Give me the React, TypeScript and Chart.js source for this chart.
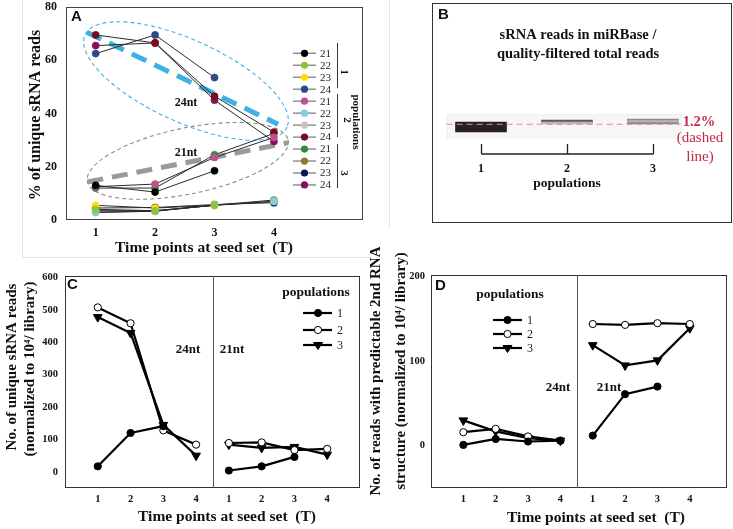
import React, { useEffect, useRef } from 'react';
import { Chart, registerables } from 'chart.js';
Chart.register(...registerables);

const SERIF = '"Liberation Serif", "Times New Roman", serif';
const SANS = '"Liberation Sans", Arial, sans-serif';

// ---------- Panel A data ----------
const aTimePoints = [1, 2, 3, 4];
const aLengths = ['21', '22', '23', '24'];
const aYTicks = [0, 20, 40, 60, 80];
// rows: lengths 21, 22, 23, 24 ; columns: time points 1..4
const aPop1 = [[13, 10.5, 18.5, null], [4, 3.5, 5.5, null], [5.5, 4.5, 5.5, null], [62.5, 69.5, 53.5, null]];
const aPop2 = [[12.5, 13.5, 23.5, 31], [2.8, 3.3, 5.6, 7], [3.5, 3.5, 5.5, 7], [69.5, 66.5, 46.5, 33]];
const aPop3 = [[12, 12, 24.5, 32.5], [3, 3.3, 5.6, 7.5], [4.5, 4.7, 5.8, 6.5], [65.5, 66.5, 45, 29.5]];
const aColorsPop1 = ['#000000', '#8cc43c', '#ffe000', '#2d4a8a'];
const aColorsPop2 = ['#c2508e', '#7fcfe0', '#c8c4c4', '#7a0c20'];
const aColorsPop3 = ['#2f8a3c', '#8a7e22', '#0c1850', '#86105c'];
const aTrend24 = [[0.85, 70.5], [4.07, 36]];
const aTrend21 = [[0.86, 14.3], [4.24, 29]];
// ellipse: centre (x, y) and end of major axis (x, y), in data units
const aEllipse24 = [2.52, 52.2, 4.22, 34.9];
const aEllipse21 = [2.55, 22.2, 4.24, 30.0];

// ---------- Panel B data ----------
const bPops = [1, 2, 3];
const bPopLabels = ['1', '2', '3'];
const bDark = [[1.123, 1.223], [1.213, 1.243], [1.203, 1.253]];
const bLight = [null, [1.203, 1.222], [1.225, 1.236]];
const bThreshold = 1.2;
const bLineRange = [0.6, 3.32];

// ---------- Panel C / D data ----------
const cdX24 = [1, 2, 3, 4];
const cdX21 = [5, 6, 7, 8];
const cdTickLabels = ['1', '2', '3', '4', '1', '2', '3', '4'];
const cdPopLabels = ['1', '2', '3'];
const c24 = [[17, 120, 141, null], [508, 459, 128, 84], [478, 429, 145, 50]];
const c21 = [[4, 17, 46, null], [89, 91, 67, 71], [84, 74, 77, 53]];
const cYTicks = [0, 100, 200, 300, 400, 500, 600];
const d24 = [[1, 8, 5, 6], [16, 20, 11, 6], [30, 17, 9, 6]];
const d21 = [[12, 61, 70, null], [144, 143, 145, 144], [119, 95, 101, 139]];
const dYTicks = [0, 100, 200];

type TextItem = { t: string; x: number; y: number; size: number; bold?: boolean; fam?: string; color?: string; align?: CanvasTextAlign; rot?: number };

function drawTexts(ctx: CanvasRenderingContext2D, items: TextItem[]) {
  for (const it of items) {
    ctx.save();
    ctx.font = `${it.bold ? 'bold ' : ''}${it.size}px ${it.fam || SERIF}`;
    ctx.fillStyle = it.color || '#111';
    ctx.textAlign = it.align || 'center';
    ctx.textBaseline = 'middle';
    ctx.translate(it.x, it.y);
    if (it.rot) ctx.rotate((it.rot * Math.PI) / 180);
    ctx.fillText(it.t, 0, 0);
    ctx.restore();
  }
}

function drawFrame(chart: any, color = '#333') {
  const { ctx, chartArea: a } = chart;
  ctx.save();
  ctx.strokeStyle = color;
  ctx.lineWidth = 1;
  ctx.setLineDash([]);
  ctx.strokeRect(Math.round(a.left) + 0.5, Math.round(a.top) + 0.5, Math.round(a.right - a.left) - 1, Math.round(a.bottom - a.top) - 1);
  ctx.restore();
}

function drawMarker(ctx: CanvasRenderingContext2D, kind: number, x: number, y: number) {
  ctx.save();
  ctx.fillStyle = kind === 1 ? '#fff' : '#000';
  ctx.strokeStyle = '#000';
  ctx.lineWidth = 1;
  ctx.beginPath();
  if (kind === 2) {
    ctx.moveTo(x - 4.5, y - 2.5);
    ctx.lineTo(x + 4.5, y - 2.5);
    ctx.lineTo(x, y + 4.5);
    ctx.closePath();
  } else {
    ctx.arc(x, y, 3.6, 0, Math.PI * 2);
  }
  ctx.fill();
  ctx.stroke();
  ctx.restore();
}

const tickFont = (size: number) => ({ family: SERIF, size, weight: 'bold' as const });
const noGrid = { display: false, drawTicks: false };
const fitX = (h: number) => (s: any) => { s.height = h; s.paddingLeft = 0; s.paddingRight = 0; };
const fitY = (w: number) => (s: any) => { s.width = w; s.paddingTop = 0; s.paddingBottom = 0; };

function configA(): any {
  const pops = [aPop1, aPop2, aPop3];
  const cols = [aColorsPop1, aColorsPop2, aColorsPop3];
  const datasets: any[] = [];
  pops.forEach((pop, p) => {
    pop.forEach((vals, l) => {
      const c = cols[p][l];
      datasets.push({
        data: aTimePoints.map((t, i) => ({ x: t, y: vals[i] })),
        borderColor: '#2a2a2a', borderWidth: 1, pointRadius: 3.6, pointBorderWidth: 0.5,
        pointBackgroundColor: c, pointBorderColor: c, spanGaps: false, order: 1,
      });
    });
  });
  datasets.push({ data: aTrend24.map(([x, y]) => ({ x, y })), borderColor: '#3db1e4', borderWidth: 5, borderDash: [16, 9], pointRadius: 0, order: 5 });
  datasets.push({ data: aTrend21.map(([x, y]) => ({ x, y })), borderColor: '#9a9a9a', borderWidth: 5, borderDash: [16, 9], pointRadius: 0, order: 5 });

  const deco = {
    id: 'decoA',
    beforeDatasetsDraw(chart: any) {
      const { ctx } = chart;
      const xs = chart.scales.x, ys = chart.scales.y;
      const ell = (e: number[], b: number, color: string) => {
        const cx = xs.getPixelForValue(e[0]), cy = ys.getPixelForValue(e[1]);
        const ex = xs.getPixelForValue(e[2]), ey = ys.getPixelForValue(e[3]);
        const a = Math.hypot(ex - cx, ey - cy);
        const ang = Math.atan2(ey - cy, ex - cx);
        ctx.save();
        ctx.strokeStyle = color; ctx.lineWidth = 1.1; ctx.setLineDash([4, 3]);
        ctx.beginPath(); ctx.ellipse(cx, cy, a, b, ang, 0, Math.PI * 2); ctx.stroke();
        ctx.restore();
      };
      ell(aEllipse24, 41, '#3db1e4');
      ell(aEllipse21, 33, '#8a8a8a');
    },
    afterDraw(chart: any) {
      const { ctx } = chart;
      drawFrame(chart, '#444');
      ctx.save();
      ctx.strokeStyle = '#e6e6e6'; ctx.lineWidth = 1;
      ctx.beginPath(); ctx.moveTo(22.5, 0); ctx.lineTo(22.5, 257.5); ctx.lineTo(370, 257.5); ctx.stroke();
      ctx.restore();
      const cols2 = [aColorsPop1, aColorsPop2, aColorsPop3];
      for (let i = 0; i < 12; i++) {
        const p = Math.floor(i / 4), l = i % 4;
        const y = 53.3 + i * 11.97;
        ctx.save();
        ctx.strokeStyle = '#8a8a8a'; ctx.lineWidth = 1.4;
        ctx.beginPath(); ctx.moveTo(293, y); ctx.lineTo(316, y); ctx.stroke();
        ctx.fillStyle = cols2[p][l];
        ctx.beginPath(); ctx.arc(304.5, y, 3.6, 0, Math.PI * 2); ctx.fill();
        ctx.restore();
        drawTexts(ctx, [{ t: aLengths[l], x: 320, y: y + 0.5, size: 11, align: 'left', color: '#222' }]);
      }
      ctx.save();
      ctx.strokeStyle = '#333'; ctx.lineWidth = 1;
      [[43, 88], [94, 137], [144, 188]].forEach(([a, b]) => {
        ctx.beginPath(); ctx.moveTo(337.5, a); ctx.lineTo(337.5, b); ctx.stroke();
      });
      ctx.restore();
      drawTexts(ctx, [
        { t: '1', x: 344, y: 72, size: 11, bold: true, rot: 90 },
        { t: '2', x: 347, y: 120, size: 11, bold: true, rot: 90 },
        { t: '3', x: 344, y: 173, size: 11, bold: true, rot: 90 },
        { t: 'populations', x: 356, y: 122, size: 11, bold: true, rot: 90 },
        { t: 'A', x: 71, y: 16.5, size: 15, bold: true, fam: SANS, align: 'left' },
        { t: '24nt', x: 186, y: 103, size: 12, bold: true },
        { t: '21nt', x: 186, y: 153, size: 12, bold: true },
        { t: '% of unique sRNA reads', x: 36, y: 115, size: 16, bold: true, rot: -90 },
        { t: 'Time points at seed set  (T)', x: 204, y: 248, size: 15.5, bold: true },
      ]);
    },
  };

  return {
    type: 'line',
    data: { datasets },
    plugins: [deco],
    options: {
      animation: false, responsive: false, events: [],
      layout: { padding: { left: 0, top: 7, right: 7, bottom: 0 } },
      plugins: { legend: { display: false }, tooltip: { enabled: false } },
      scales: {
        x: {
          type: 'linear', min: 0.5, max: 5.5,
          grid: noGrid, border: { display: false },
          afterBuildTicks: (s: any) => { s.ticks = aTimePoints.map((v) => ({ value: v })); },
          afterFit: fitX(40),
          ticks: { font: tickFont(12), color: '#111', padding: 6, maxRotation: 0 },
        },
        y: {
          type: 'linear', min: 0, max: 80,
          grid: noGrid, border: { display: false },
          afterBuildTicks: (s: any) => { s.ticks = aYTicks.map((v) => ({ value: v })); },
          afterFit: fitY(66),
          ticks: { font: tickFont(12), color: '#111', padding: 9 },
        },
      },
    },
  };
}

function configB(): any {
  const deco = {
    id: 'decoB',
    beforeDatasetsDraw(chart: any) {
      const { ctx } = chart;
      const xs = chart.scales.x, ys = chart.scales.y;
      const x0 = xs.getPixelForValue(bLineRange[0]), x1 = xs.getPixelForValue(3.33);
      const y0 = ys.getPixelForValue(1.3), y1 = ys.getPixelForValue(1.07);
      ctx.save();
      ctx.fillStyle = '#f6f6f6'; ctx.strokeStyle = '#ededed';
      ctx.fillRect(x0, y0, x1 - x0, y1 - y0);
      ctx.strokeRect(x0 + 0.5, y0 + 0.5, x1 - x0, y1 - y0);
      ctx.restore();
    },
    afterDraw(chart: any) {
      const { ctx } = chart;
      const xs = chart.scales.x;
      drawFrame(chart, '#333');
      ctx.save();
      ctx.strokeStyle = '#e8e8e8'; ctx.lineWidth = 1;
      ctx.beginPath(); ctx.moveTo(19.5, 0); ctx.lineTo(19.5, 233.5); ctx.lineTo(363, 233.5); ctx.stroke();
      ctx.strokeStyle = '#222'; ctx.lineWidth = 1.3;
      const px = bPops.map((p) => Math.round(xs.getPixelForValue(p)) + 0.5);
      ctx.beginPath(); ctx.moveTo(px[0], 154); ctx.lineTo(px[2], 154); ctx.stroke();
      px.forEach((x) => { ctx.beginPath(); ctx.moveTo(x, 144); ctx.lineTo(x, 154); ctx.stroke(); });
      ctx.restore();
      const items: TextItem[] = bPops.map((p, i) => ({ t: bPopLabels[i], x: xs.getPixelForValue(p), y: 168.5, size: 12, bold: true }));
      drawTexts(ctx, [
        ...items,
        { t: 'populations', x: xs.getPixelForValue(2), y: 183.5, size: 13.5, bold: true },
        { t: 'B', x: 68, y: 15, size: 15, bold: true, fam: SANS, align: 'left' },
        { t: 'sRNA reads in miRBase /', x: 208, y: 35, size: 14.5, bold: true },
        { t: 'quality-filtered total reads', x: 208, y: 54, size: 14.5, bold: true },
        { t: '1.2%', x: 329, y: 122, size: 14.5, bold: true, color: '#c22848' },
        { t: '(dashed', x: 330, y: 138.5, size: 15, color: '#c22848' },
        { t: 'line)', x: 330, y: 157, size: 15, color: '#c22848' },
      ]);
    },
  };
  return {
    type: 'bar',
    data: {
      datasets: [
        { type: 'line', data: bLineRange.map((x) => ({ x, y: bThreshold })), borderColor: '#e58c98', borderWidth: 1, borderDash: [6, 4], pointRadius: 0, order: -1 },
        { type: 'bar', data: bPops.map((p, i) => ({ x: p, y: bLight[i] })), backgroundColor: '#b8b8b8', barThickness: 51, grouped: false, order: 0 },
        { type: 'bar', data: bPops.map((p, i) => ({ x: p, y: bDark[i] })), backgroundColor: ['#2a2020', '#5c5c5c', '#8a8a8a'], barThickness: 51, grouped: false, order: 1 },
      ],
    },
    plugins: [deco],
    options: {
      animation: false, responsive: false, events: [],
      layout: { padding: { left: 62, top: 3, right: 1, bottom: 5 } },
      plugins: { legend: { display: false }, tooltip: { enabled: false } },
      scales: {
        x: { type: 'linear', min: 0.43, max: 3.92, offset: false, display: false },
        y: { type: 'linear', min: 0.213, max: 2.413, display: false },
      },
    },
  };
}

function configCD(kind: 'C' | 'D'): any {
  const isC = kind === 'C';
  const v24 = isC ? c24 : d24;
  const v21 = isC ? c21 : d21;
  const datasets: any[] = [];
  for (let p = 0; p < 3; p++) {
    [[cdX24, v24[p]], [cdX21, v21[p]]].forEach(([xs, vals]: any) => {
      datasets.push({
        data: xs.map((x: number, i: number) => ({ x, y: vals[i] })),
        borderColor: '#000', borderWidth: 2.2, spanGaps: false,
        pointStyle: p === 2 ? 'triangle' : 'circle', pointRotation: p === 2 ? 180 : 0,
        pointRadius: p === 2 ? 5 : 3.6, pointBackgroundColor: p === 1 ? '#fff' : '#000',
        pointBorderColor: '#000', pointBorderWidth: 1,
      });
    });
  }
  const L = isC
    ? { letter: [67, 25], t1: [12, 107], t2: [30, 109], xt: [227, 257], n24: [188, 90], n21: [232, 90], pops: [316, 33], rows: [53, 70, 85], lx: [303, 332], mx: 318, labx: 337,
        y1: 'No. of unique sRNA reads', y2: '(normalized to 10\u2074/ library)' }
    : { letter: [75, 57.5], t1: [16, 143], t2: [41, 143], xt: [236, 290], n24: [198, 160], n21: [249, 160], pops: [150, 67], rows: [92, 106, 120], lx: [133, 162], mx: 147.5, labx: 167,
        y1: 'No. of reads with predictable 2nd RNA', y2: 'structure (normalized to 10\u2074/ library)' };
  const deco = {
    id: 'decoCD',
    afterDraw(chart: any) {
      const { ctx, chartArea: a } = chart;
      const xs = chart.scales.x;
      drawFrame(chart, '#333');
      const dx = Math.round(xs.getPixelForValue(4.5)) + 0.5;
      ctx.save();
      ctx.strokeStyle = '#555'; ctx.lineWidth = 1;
      ctx.beginPath(); ctx.moveTo(dx, a.top); ctx.lineTo(dx, a.bottom); ctx.stroke();
      ctx.strokeStyle = '#000'; ctx.lineWidth = 2.2;
      L.rows.forEach((y) => { ctx.beginPath(); ctx.moveTo(L.lx[0], y); ctx.lineTo(L.lx[1], y); ctx.stroke(); });
      ctx.restore();
      L.rows.forEach((y, i) => drawMarker(ctx, i, L.mx, y));
      drawTexts(ctx, [
        ...L.rows.map((y, i) => ({ t: cdPopLabels[i], x: L.labx, y: y + 0.5, size: 12, align: 'left' as CanvasTextAlign, color: '#222' })),
        { t: 'populations', x: L.pops[0], y: L.pops[1], size: 13.5, bold: true },
        { t: kind, x: L.letter[0], y: L.letter[1], size: 15, bold: true, fam: SANS, align: 'left' },
        { t: '24nt', x: L.n24[0], y: L.n24[1], size: 13, bold: true },
        { t: '21nt', x: L.n21[0], y: L.n21[1], size: 13, bold: true },
        { t: L.y1, x: L.t1[0], y: L.t1[1], size: 15, bold: true, rot: -90 },
        { t: L.y2, x: L.t2[0], y: L.t2[1], size: 15, bold: true, rot: -90 },
        { t: 'Time points at seed set  (T)', x: L.xt[0], y: L.xt[1], size: 15.5, bold: true },
      ]);
    },
  };
  const yTicks = isC ? cYTicks : dYTicks;
  return {
    type: 'line',
    data: { datasets },
    plugins: [deco],
    options: {
      animation: false, responsive: false, events: [],
      layout: { padding: isC ? { left: 0, top: 16, right: 10, bottom: 0 } : { left: 0, top: 47, right: 1, bottom: 0 } },
      plugins: { legend: { display: false }, tooltip: { enabled: false } },
      scales: {
        x: {
          type: 'linear', min: 0, max: isC ? 9 : 9.15,
          grid: noGrid, border: { display: false },
          afterBuildTicks: (s: any) => { s.ticks = [...cdX24, ...cdX21].map((v) => ({ value: v })); },
          afterFit: fitX(41),
          ticks: { font: tickFont(10.5), color: '#111', padding: 5, maxRotation: 0, callback: (v: any) => cdTickLabels[Number(v) - 1] },
        },
        y: {
          type: 'linear', min: -50, max: isC ? 605 : 202,
          grid: noGrid, border: { display: false },
          afterBuildTicks: (s: any) => { s.ticks = yTicks.map((v) => ({ value: v })); },
          afterFit: fitY(isC ? 65 : 71),
          ticks: { font: tickFont(10.5), color: '#111', padding: isC ? 7 : 6 },
        },
      },
    },
  };
}

export default function App() {
  const aRef = useRef<HTMLCanvasElement>(null);
  const bRef = useRef<HTMLCanvasElement>(null);
  const cRef = useRef<HTMLCanvasElement>(null);
  const dRef = useRef<HTMLCanvasElement>(null);
  useEffect(() => {
    Chart.defaults.font.family = SERIF;
    const charts = [
      new Chart(aRef.current!, configA()),
      new Chart(bRef.current!, configB()),
      new Chart(cRef.current!, configCD('C')),
      new Chart(dRef.current!, configCD('D')),
    ];
    return () => charts.forEach((c) => c.destroy());
  }, []);
  const abs = (left: number, top: number, w: number, h: number): React.CSSProperties => ({ position: 'absolute', left, top, width: w, height: h });
  return (
    <div style={{ position: 'fixed', left: 0, top: 0, width: 733, height: 529, background: '#fff', overflow: 'hidden' }}>
      <canvas ref={aRef} width={370} height={260} style={abs(0, 0, 370, 260)} />
      <canvas ref={bRef} width={363} height={228} style={abs(370, 0, 363, 228)} />
      <canvas ref={cRef} width={370} height={269} style={abs(0, 260, 370, 269)} />
      <canvas ref={dRef} width={373} height={301} style={abs(360, 228, 373, 301)} />
    </div>
  );
}
